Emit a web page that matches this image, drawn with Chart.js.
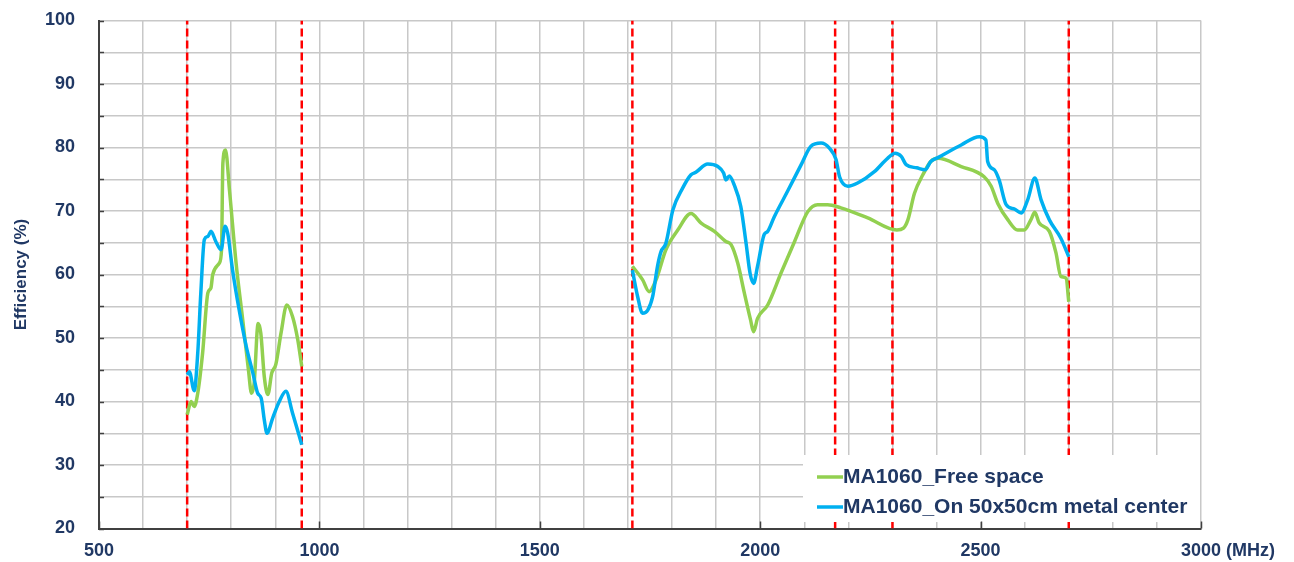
<!DOCTYPE html>
<html>
<head>
<meta charset="utf-8">
<title>MA1060 Efficiency</title>
<script src="https://cdn.jsdelivr.net/npm/chart.js@4.4.0/dist/chart.umd.min.js"></script>
<style>
  html, body { margin: 0; padding: 0; background: #ffffff; }
  #wrap { width: 1294px; height: 562px; }
</style>
</head>
<body>
<div id="wrap"><canvas id="chart" width="1294" height="562"></canvas></div>
<script>
// ---- data ----
const seriesNames = ['MA1060_Free space', 'MA1060_On 50x50cm metal center'];

// Free space, low band (MHz / %)
const freeLowFreq = [700, 709, 716, 724, 735, 747, 754, 758, 773, 778, 781, 787, 796, 811, 826, 839, 846, 852, 861, 867, 875, 883, 892, 901, 913, 926, 939, 951, 960];
const freeLowEff  = [37.9, 40.0, 39.2, 41.3, 47.6, 57.1, 57.9, 60.0, 61.8, 63.9, 77.5, 79.6, 73.3, 61.8, 52.9, 45.0, 41.3, 42.9, 52.3, 50.8, 43.9, 41.1, 44.5, 45.8, 50.8, 55.2, 53.4, 49.7, 45.5];

// Free space, high band
const freeHighFreq = [1710, 1733, 1748, 1764, 1786, 1813, 1843, 1866, 1896, 1922, 1934, 1949, 1964, 1978, 1985, 1994, 2017, 2047, 2078, 2108, 2130, 2153, 2183, 2244, 2310, 2325, 2335, 2350, 2369, 2387, 2403, 2456, 2508, 2524, 2539, 2562, 2584, 2599, 2614, 2623, 2633, 2656, 2671, 2682, 2694, 2700];
const freeHighEff  = [61.3, 59.2, 57.3, 59.2, 63.9, 67.0, 69.6, 68.1, 66.8, 65.2, 64.7, 61.8, 57.1, 52.9, 51.0, 53.1, 55.2, 60.2, 65.2, 69.9, 71.0, 71.0, 70.5, 68.9, 67.0, 67.3, 68.6, 72.8, 75.7, 77.8, 78.3, 77.0, 75.4, 73.9, 71.2, 68.6, 67.0, 67.0, 68.6, 69.8, 68.1, 66.8, 63.4, 59.7, 59.4, 55.7];

// On metal, low band
const metalLowFreq = [700, 705, 716, 724, 731, 739, 747, 754, 765, 777, 786, 792, 803, 818, 834, 849, 860, 868, 875, 881, 894, 909, 924, 939, 960];
const metalLowEff  = [44.2, 44.7, 41.7, 47.6, 57.1, 65.5, 66.0, 66.8, 65.2, 63.9, 67.6, 66.5, 60.7, 54.4, 48.7, 44.5, 41.3, 40.5, 37.1, 35.0, 37.4, 40.0, 41.6, 38.2, 33.2];

// On metal, high band
const metalHighFreq = [1710, 1722, 1733, 1745, 1756, 1767, 1775, 1786, 1802, 1824, 1843, 1854, 1881, 1904, 1917, 1922, 1930, 1941, 1956, 1968, 1977, 1985, 1994, 2009, 2017, 2032, 2062, 2093, 2115, 2138, 2157, 2172, 2180, 2199, 2221, 2259, 2289, 2306, 2320, 2331, 2355, 2374, 2387, 2403, 2456, 2497, 2512, 2516, 2531, 2542, 2558, 2577, 2592, 2607, 2623, 2637, 2656, 2682, 2700];
const metalHighEff  = [60.7, 56.5, 53.9, 54.4, 56.5, 61.3, 63.6, 64.9, 70.2, 73.6, 75.7, 76.1, 77.4, 77.0, 76.0, 74.9, 75.5, 74.1, 70.7, 64.9, 60.2, 58.6, 61.3, 66.3, 66.8, 69.1, 73.1, 77.3, 80.2, 80.7, 79.9, 78.1, 75.4, 73.9, 74.4, 76.2, 78.3, 79.1, 78.6, 77.3, 76.8, 76.5, 77.8, 78.4, 80.4, 81.7, 81.2, 77.8, 76.5, 74.9, 71.0, 70.3, 69.7, 71.8, 75.2, 71.8, 68.6, 65.7, 62.8];

// Band edge markers (MHz)
const bandEdges = [700, 960, 1710, 2170, 2300, 2700];

// Axis labels
const xTickLabels = ['500', '1000', '1500', '2000', '2500', '3000'];
const yTickLabels = ['20', '30', '40', '50', '60', '70', '80', '90', '100'];
const xUnit = '(MHz)';
const yTitle = 'Efficiency (%)';

// ---- styling ----
const GREEN = '#92D050';
const BLUE = '#00B0F0';
const RED = '#FF0000';
const TEXT = '#203864';
const GRID = '#C8C8C8';
const AXIS = '#404040';
const FONT = '"Liberation Sans", Arial, sans-serif';

function toPoints(freqs, effs) {
  return freqs.map((f, i) => ({ x: f, y: effs[i] }));
}
// the two bands of each trace, split by a gap
function twoBands(f1, e1, f2, e2) {
  return [...toPoints(f1, e1), { x: (f1[f1.length - 1] + f2[0]) / 2, y: null }, ...toPoints(f2, e2)];
}

const traceStyle = {
  borderWidth: 3.5,
  pointRadius: 0,
  pointHoverRadius: 0,
  fill: false,
  spanGaps: false,
  cubicInterpolationMode: 'monotone'
};

const datasets = [
  Object.assign({
    label: seriesNames[0],
    data: twoBands(freeLowFreq, freeLowEff, freeHighFreq, freeHighEff),
    borderColor: GREEN,
    backgroundColor: GREEN,
    order: 1
  }, traceStyle),
  Object.assign({
    label: seriesNames[1],
    data: twoBands(metalLowFreq, metalLowEff, metalHighFreq, metalHighEff),
    borderColor: BLUE,
    backgroundColor: BLUE,
    order: 0
  }, traceStyle)
];

bandEdges.forEach(f => {
  datasets.push({
    label: 'edge ' + f,
    data: [{ x: f, y: 20 }, { x: f, y: 100 }],
    borderColor: RED,
    borderWidth: 2.5,
    borderDash: [8, 4],
    pointRadius: 0,
    pointHoverRadius: 0,
    fill: false,
    order: 2
  });
});

// legend box, inward tick marks and axis unit
const decorations = {
  id: 'decorations',
  afterDatasetsDraw(chart) {
    const { ctx, chartArea: a } = chart;
    ctx.save();
    const boxL = 803, boxT = 455, boxB = 522;
    ctx.fillStyle = '#ffffff';
    ctx.fillRect(boxL, boxT, a.right - 1 - boxL, boxB - boxT);
    const rowsY = [477, 507];
    const colors = [GREEN, BLUE];
    ctx.font = 'bold 21px ' + FONT;
    ctx.textBaseline = 'middle';
    ctx.textAlign = 'left';
    seriesNames.forEach((name, i) => {
      ctx.strokeStyle = colors[i];
      ctx.lineWidth = 3.5;
      ctx.beginPath();
      ctx.moveTo(817, rowsY[i]);
      ctx.lineTo(843, rowsY[i]);
      ctx.stroke();
      ctx.fillStyle = TEXT;
      ctx.fillText(name, 843, rowsY[i]);
    });
    ctx.restore();
  },
  afterDraw(chart) {
    const { ctx, chartArea: a, scales: { x, y } } = chart;
    ctx.save();
    ctx.strokeStyle = AXIS;
    ctx.lineWidth = 1.5;
    for (let v = 20; v <= 100; v += 5) {
      const py = Math.round(y.getPixelForValue(v)) + 0.5;
      ctx.beginPath();
      ctx.moveTo(a.left, py);
      ctx.lineTo(a.left + 5, py);
      ctx.stroke();
    }
    xTickLabels.forEach(t => {
      const px = Math.round(x.getPixelForValue(Number(t))) + 0.5;
      ctx.beginPath();
      ctx.moveTo(px, a.bottom);
      ctx.lineTo(px, a.bottom - 7);
      ctx.stroke();
    });
    ctx.fillStyle = TEXT;
    ctx.font = 'bold 18px ' + FONT;
    ctx.textAlign = 'left';
    ctx.textBaseline = 'middle';
    ctx.fillText(xUnit, x.getPixelForValue(3000) + 25, 551);
    ctx.restore();
  }
};

new Chart(document.getElementById('chart'), {
  type: 'line',
  data: { datasets },
  plugins: [decorations],
  options: {
    responsive: false,
    animation: false,
    devicePixelRatio: 1,
    layout: { padding: { left: 0, right: 93, top: 20.5, bottom: 0 } },
    plugins: {
      legend: { display: false },
      tooltip: { enabled: false }
    },
    scales: {
      x: {
        type: 'linear',
        min: 500,
        max: 3000,
        afterFit(s) { s.height = 33.5; },
        ticks: {
          stepSize: 100,
          autoSkip: false,
          maxRotation: 0,
          padding: 12,
          color: TEXT,
          font: { family: FONT, size: 18, weight: 'bold' },
          callback: v => (xTickLabels.includes(String(v)) ? String(v) : '')
        },
        grid: { color: GRID, lineWidth: 1.5, drawTicks: false },
        border: { color: AXIS, width: 2 }
      },
      y: {
        min: 20,
        max: 100,
        afterFit(s) { s.width = 99; s.paddingTop = 0; s.paddingBottom = 0; },
        ticks: {
          stepSize: 5,
          autoSkip: false,
          padding: 24,
          color: TEXT,
          font: { family: FONT, size: 18, weight: 'bold' },
          callback: v => (yTickLabels.includes(String(v)) ? String(v) : '')
        },
        grid: { color: GRID, lineWidth: 1.5, drawTicks: false },
        border: { color: AXIS, width: 2 },
        title: {
          display: true,
          text: yTitle,
          color: TEXT,
          font: { family: FONT, size: 17, weight: 'bold' },
          padding: { top: 11, bottom: 0 }
        }
      }
    }
  }
});
</script>
</body>
</html>
